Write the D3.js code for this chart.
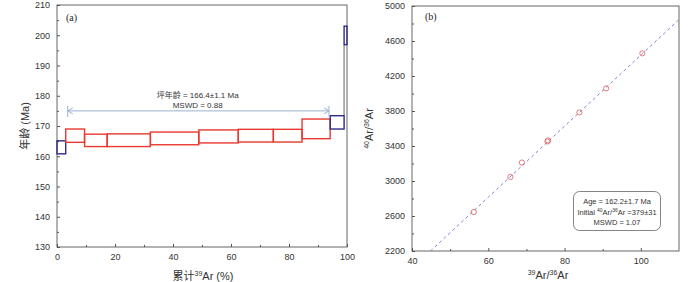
<!DOCTYPE html>
<html lang="zh">
<head>
<meta charset="UTF-8">
<title>Ar-Ar 坪年龄与等时线</title>
<script src="https://d3js.org/d3.v7.min.js"></script>
<style>
  body { margin: 0; background: #fff; }
  .axis text { font-family: "Liberation Sans", Arial, sans-serif; font-size: 9px; fill: #333; }
  .axis path, .axis line { stroke: #555; }
  .lbl { font-family: "Liberation Sans", Arial, "Noto Sans CJK SC", sans-serif; fill: #333; }
</style>
</head>
<body>
<svg width="700" height="282"></svg>
<script>
// ---- data: age spectrum (a) ----
const stepCum = [0, 3, 9.5, 17.3, 32.2, 48.9, 62.5, 74.6, 84.5, 94.2, 99, 100];
const ageLo   = [160.8, 164.6, 163.2, 163.2, 163.8, 164.4, 164.7, 164.7, 165.8, 169.0, 196.9];
const ageHi   = [165.1, 169.0, 167.3, 167.4, 168.0, 168.7, 168.9, 168.9, 172.3, 173.4, 203.0];
const inPlateau = [false, true, true, true, true, true, true, true, true, false, false];
const plateauRange = [3.7, 93.8];
const plateauY = 175;
const ageTicks = [130, 140, 150, 160, 170, 180, 190, 200, 210];
const cumTicks = [0, 20, 40, 60, 80, 100];

// ---- data: isochron (b) ----
const ratio39 = [56.2, 65.8, 68.8, 75.5, 75.7, 83.9, 90.9, 100.4];
const ratio40 = [2646, 3047, 3211, 3452, 3464, 3784, 4058, 4459];
const isoIntercept = 379;
const isoSlope = 40.6;
const isoXTicks = [40, 60, 80, 100];
const isoYTicks = [2200, 2600, 3000, 3400, 3800, 4200, 4600, 5000];

const svg = d3.select("svg");
const red = "#e8392e", blue = "#2f2b86";
const fmt = d3.format("d");

// ================= panel (a) =================
const A = { left: 57, right: 347, top: 5, bottom: 247 };
const xa = d3.scaleLinear().domain([0, 100]).range([A.left, A.right]);
const ya = d3.scaleLinear().domain([130, 210]).range([A.bottom, A.top]);

const ga = svg.append("g");
ga.append("rect").attr("x", A.left).attr("y", A.top)
  .attr("width", A.right - A.left).attr("height", A.bottom - A.top)
  .attr("fill", "none").attr("stroke", "#666").attr("stroke-width", 1);

// minor ticks
ga.append("g").attr("class", "axis").attr("transform", `translate(${A.left},0)`)
  .call(d3.axisLeft(ya).tickValues(d3.range(135, 210, 10)).tickSize(-2).tickFormat(""))
  .call(g => g.select(".domain").remove());
ga.append("g").attr("class", "axis").attr("transform", `translate(0,${A.bottom})`)
  .call(d3.axisBottom(xa).tickValues(d3.range(10, 100, 20)).tickSize(-2).tickFormat(""))
  .call(g => g.select(".domain").remove());
// major ticks
ga.append("g").attr("class", "axis").attr("transform", `translate(${A.left},0)`)
  .call(d3.axisLeft(ya).tickValues(ageTicks).tickSize(-3).tickPadding(7).tickFormat(fmt))
  .call(g => g.select(".domain").remove());
ga.append("g").attr("class", "axis").attr("transform", `translate(0,${A.bottom})`)
  .call(d3.axisBottom(xa).tickValues(cumTicks).tickSize(-3).tickPadding(7).tickFormat(fmt))
  .call(g => g.select(".domain").remove());

// connecting line to last step
ga.append("line")
  .attr("x1", xa(stepCum[10])).attr("x2", xa(stepCum[10]))
  .attr("y1", ya(ageLo[10])).attr("y2", ya(ageHi[9]))
  .attr("stroke", "#999").attr("stroke-width", 1.5);

// steps
ga.selectAll("rect.step").data(ageLo).enter().append("rect")
  .attr("class", "step")
  .attr("x", (d, i) => xa(stepCum[i]))
  .attr("width", (d, i) => xa(stepCum[i + 1]) - xa(stepCum[i]))
  .attr("y", (d, i) => ya(ageHi[i]))
  .attr("height", (d, i) => ya(ageLo[i]) - ya(ageHi[i]))
  .attr("fill", "none")
  .attr("stroke", (d, i) => inPlateau[i] ? red : blue)
  .attr("stroke-width", 1.4);

// plateau arrow
const arrowC = "#9db0cf";
const py = ya(plateauY);
ga.append("line").attr("x1", xa(plateauRange[0])).attr("x2", xa(plateauRange[1]))
  .attr("y1", py).attr("y2", py).attr("stroke", arrowC).attr("stroke-width", 1);
plateauRange.forEach((v, i) => {
  const x = xa(v), dir = i === 0 ? 1 : -1;
  ga.append("line").attr("x1", x).attr("x2", x).attr("y1", py - 5).attr("y2", py + 6)
    .attr("stroke", arrowC).attr("stroke-width", 1);
  ga.append("path").attr("d", `M${x + dir * 5},${py - 3}L${x},${py}L${x + dir * 5},${py + 3}`)
    .attr("fill", "none").attr("stroke", arrowC).attr("stroke-width", 1);
});
ga.append("text").attr("class", "lbl").attr("x", xa(48.5)).attr("y", py - 13)
  .attr("text-anchor", "middle").attr("font-size", 8).text("坪年龄 = 166.4±1.1 Ma");
ga.append("text").attr("class", "lbl").attr("x", xa(48.5)).attr("y", py - 3)
  .attr("text-anchor", "middle").attr("font-size", 8).text("MSWD = 0.88");

ga.append("text").attr("x", 66).attr("y", 21)
  .attr("font-family", "Liberation Serif, serif").attr("font-size", 10).attr("fill", "#222").text("(a)");

ga.append("text").attr("class", "lbl").attr("font-size", 11)
  .attr("transform", `translate(29,${(A.top + A.bottom) / 2}) rotate(-90)`)
  .attr("text-anchor", "middle").text("年龄 (Ma)");
const xla = ga.append("text").attr("class", "lbl").attr("font-size", 11)
  .attr("x", 203).attr("y", 280).attr("text-anchor", "middle");
xla.append("tspan").text("累计");
xla.append("tspan").attr("font-size", 7).attr("dy", -4).text("39");
xla.append("tspan").attr("dy", 4).text("Ar (%)");

// ================= panel (b) =================
const B = { left: 412, right: 679, top: 6, bottom: 251 };
const xb = d3.scaleLinear().domain([40, 110]).range([B.left, B.right]);
const yb = d3.scaleLinear().domain([2200, 5000]).range([B.bottom, B.top]);

const gb = svg.append("g");
gb.append("rect").attr("x", B.left).attr("y", B.top)
  .attr("width", B.right - B.left).attr("height", B.bottom - B.top)
  .attr("fill", "none").attr("stroke", "#666").attr("stroke-width", 1);

gb.append("g").attr("class", "axis").attr("transform", `translate(${B.left},0)`)
  .call(d3.axisLeft(yb).tickValues(d3.range(2400, 5000, 400)).tickSize(-2).tickFormat(""))
  .call(g => g.select(".domain").remove());
gb.append("g").attr("class", "axis").attr("transform", `translate(0,${B.bottom})`)
  .call(d3.axisBottom(xb).tickValues([50, 70, 90]).tickSize(-2).tickFormat(""))
  .call(g => g.select(".domain").remove());
gb.append("g").attr("class", "axis").attr("transform", `translate(${B.left},0)`)
  .call(d3.axisLeft(yb).tickValues(isoYTicks).tickSize(-3).tickPadding(7).tickFormat(fmt))
  .call(g => g.select(".domain").remove());
gb.append("g").attr("class", "axis").attr("transform", `translate(0,${B.bottom})`)
  .call(d3.axisBottom(xb).tickValues(isoXTicks).tickSize(-3).tickPadding(7).tickFormat(fmt))
  .call(g => g.select(".domain").remove());

// isochron line
const xStart = (2200 - isoIntercept) / isoSlope;
gb.append("line")
  .attr("x1", xb(xStart)).attr("y1", yb(2200))
  .attr("x2", xb(110)).attr("y2", yb(isoIntercept + isoSlope * 110))
  .attr("stroke", "#8b7fd0").attr("stroke-width", 1).attr("stroke-dasharray", "3,3");

gb.selectAll("circle").data(ratio39).enter().append("circle")
  .attr("cx", d => xb(d)).attr("cy", (d, i) => yb(ratio40[i])).attr("r", 2.6)
  .attr("fill", "none").attr("stroke", "#e06a6a").attr("stroke-width", 0.9);

gb.append("text").attr("x", 425).attr("y", 20)
  .attr("font-family", "Liberation Serif, serif").attr("font-size", 10).attr("fill", "#222").text("(b)");

// info box
gb.append("rect").attr("x", 573.5).attr("y", 191.5).attr("width", 87).attr("height", 39)
  .attr("rx", 6).attr("fill", "#fff").attr("stroke", "#666").attr("stroke-width", 0.8);
const info = gb.append("g").attr("class", "lbl").attr("font-size", 7.5).attr("text-anchor", "middle");
info.append("text").attr("x", 617).attr("y", 204).text("Age = 162.2±1.7 Ma");
const t2 = info.append("text").attr("x", 617).attr("y", 214.5);
t2.append("tspan").text("Initial ");
t2.append("tspan").attr("font-size", 5).attr("dy", -3).text("40");
t2.append("tspan").attr("dy", 3).text("Ar/");
t2.append("tspan").attr("font-size", 5).attr("dy", -3).text("36");
t2.append("tspan").attr("dy", 3).text("Ar =379±31");
info.append("text").attr("x", 617).attr("y", 225).text("MSWD = 1.07");

// axis labels
const yl = gb.append("text").attr("class", "lbl").attr("font-size", 11)
  .attr("transform", `translate(373,${(B.top + B.bottom) / 2}) rotate(-90)`)
  .attr("text-anchor", "middle");
yl.append("tspan").attr("font-size", 7).attr("dy", -4).text("40");
yl.append("tspan").attr("dy", 4).text("Ar/");
yl.append("tspan").attr("font-size", 7).attr("dy", -4).text("36");
yl.append("tspan").attr("dy", 4).text("Ar");
const xl = gb.append("text").attr("class", "lbl").attr("font-size", 11)
  .attr("x", 548).attr("y", 279).attr("text-anchor", "middle");
xl.append("tspan").attr("font-size", 7).attr("dy", -4).text("39");
xl.append("tspan").attr("dy", 4).text("Ar/");
xl.append("tspan").attr("font-size", 7).attr("dy", -4).text("36");
xl.append("tspan").attr("dy", 4).text("Ar");
</script>
</body>
</html>
